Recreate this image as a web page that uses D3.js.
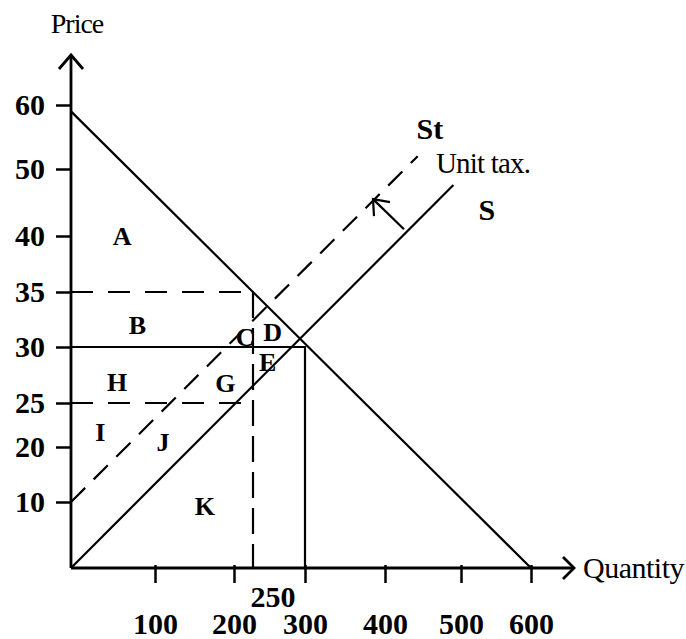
<!DOCTYPE html>
<html>
<head>
<meta charset="utf-8">
<script src="https://cdn.jsdelivr.net/npm/d3@7"></script>
<style>
  body { margin: 0; background: #fff; }
  text { font-family: "Liberation Serif", "Times New Roman", serif; fill: #000; }
</style>
</head>
<body>
<svg id="chart" width="686" height="639"></svg>
<script>
// hand drawn axes: ticks are not evenly spaced in the original
let priceTicks = [10, 20, 25, 30, 35, 40, 50, 60];
let qtyTicks = [100, 200, 300, 400, 500, 600];
let demand = [[0, 59], [600, 0]];
let supply = [[0, 0], [490, 47.6]];
let supplyTax = [[0, 10], [443, 52]];
let taxArrow = [[425, 41], [385, 45.5]];
let marketBox = [[0, 30], [300, 30], [300, 0]];
let buyerPrice = [[0, 35], [250, 35], [250, 0]];
let sellerPrice = [[0, 25], [250, 25]];
let areaNames = ['A', 'B', 'C', 'D', 'E', 'G', 'H', 'I', 'J', 'K'];
let areaQty = [61, 79, 229, 269, 264, 189, 55, 35, 110, 163];
let areaPrice = [40, 32, 30.9, 31.4, 28.7, 26.8, 26.9, 21.7, 20.6, 9.4];

let svg = d3.select('#chart');
let x = d3.scaleLinear()
    .domain([0, 100, 200, 250, 300, 400, 500, 600])
    .range([71, 155, 234, 253, 305, 385, 461, 531]);
let y = d3.scaleLinear()
    .domain([0, 10, 20, 25, 30, 35, 40, 50, 60])
    .range([568, 502, 447, 403, 347, 292, 236, 169, 105]);
let line = d3.line().x(d => x(d[0])).y(d => y(d[1]));

drawAxes();
drawCurves();
drawLabels();

function drawAxes(){
    let yAxis = svg.append('g')
        .attr('transform', `translate(${x(0)},0)`)
        .call(d3.axisLeft(y).tickValues(priceTicks).tickSize(15).tickPadding(11));
    yAxis.select('.domain').remove();
    yAxis.selectAll('line').attr('stroke', '#000').attr('stroke-width', 2.5);
    yAxis.selectAll('text')
        .attr('font-size', 30)
        .attr('font-weight', 'bold')
        .style('font-family', '"Liberation Serif", serif');

    let xAxis = svg.append('g')
        .attr('transform', `translate(0,${y(0)})`)
        .call(d3.axisBottom(x).tickValues(qtyTicks).tickSize(15).tickPadding(30));
    xAxis.select('.domain').remove();
    xAxis.selectAll('line').attr('stroke', '#000').attr('stroke-width', 2.5).attr('y1', -3);
    xAxis.selectAll('text')
        .attr('font-size', 30)
        .attr('font-weight', 'bold')
        .style('font-family', '"Liberation Serif", serif');

    // 250 sits above the others
    svg.append('text')
        .attr('x', x(250) + 20)
        .attr('y', y(0) + 39)
        .attr('text-anchor', 'middle')
        .attr('font-size', 30)
        .attr('font-weight', 'bold')
        .text('250');

    let top = y(60) - 50, right = x(600) + 43;
    let axes = svg.append('g').attr('fill', 'none').attr('stroke', '#000').attr('stroke-width', 2.8);
    axes.append('path').attr('d', `M${x(0)},${y(0)}V${top}M${x(0)},${y(0)}H${right}`);
    axes.append('path').attr('d', `M${x(0) - 12},${top + 14}L${x(0)},${top}L${x(0) + 12},${top + 14}`);
    axes.append('path').attr('d', `M${right - 11},${y(0) - 11}L${right},${y(0)}L${right - 11},${y(0) + 11}`);

    svg.append('text')
        .attr('x', x(0) + 6)
        .attr('y', 33)
        .attr('text-anchor', 'middle')
        .attr('font-size', 28)
        .attr('letter-spacing', -1)
        .text('Price');
    svg.append('text')
        .attr('x', right + 9)
        .attr('y', y(0) + 10)
        .attr('font-size', 30)
        .attr('letter-spacing', -0.5)
        .text('Quantity');
}

function drawCurves(){
    let g = svg.append('g').attr('fill', 'none').attr('stroke', '#000').attr('stroke-width', 2.2);
    g.append('path').attr('d', line(demand));
    g.append('path').attr('d', line(supply));
    g.append('path').attr('d', line(supplyTax)).attr('stroke-dasharray', '20,12');
    g.append('path').attr('d', line(marketBox));
    g.append('path').attr('d', line(buyerPrice.slice(0, 2))).attr('stroke-dasharray', '22,15');
    g.append('path').attr('d', line(buyerPrice.slice(1))).attr('stroke-dasharray', '26,10');
    g.append('path').attr('d', line(sellerPrice)).attr('stroke-dasharray', '22,15');

    // tax shift arrow
    g.append('path').attr('d', line(taxArrow));
    let a = taxArrow[1], tip = [x(a[0]), y(a[1])];
    g.append('path').attr('d', `M${tip[0] + 1},${tip[1] + 17}L${tip[0]},${tip[1]}L${tip[0] + 17},${tip[1] + 3}`);
}

function drawLabels(){
    svg.append('g').selectAll('text')
        .data(areaNames)
        .enter()
        .append('text')
        .attr('x', (d, i) => x(areaQty[i]))
        .attr('y', (d, i) => y(areaPrice[i]))
        .attr('dy', '0.35em')
        .attr('text-anchor', 'middle')
        .attr('font-size', 26)
        .attr('font-weight', 'bold')
        .text(d => d);

    svg.append('text').attr('x', x(459)).attr('y', y(56.4)).attr('dy', '0.35em')
        .attr('text-anchor', 'middle').attr('font-size', 30).attr('font-weight', 'bold').text('St');
    svg.append('text').attr('x', x(537)).attr('y', y(43.9)).attr('dy', '0.35em')
        .attr('text-anchor', 'middle').attr('font-size', 30).attr('font-weight', 'bold').text('S');
    svg.append('text').attr('x', x(467)).attr('y', y(50.9)).attr('dy', '0.35em')
        .attr('font-size', 29).attr('letter-spacing', -0.8).text('Unit tax.');
}
</script>
</body>
</html>
